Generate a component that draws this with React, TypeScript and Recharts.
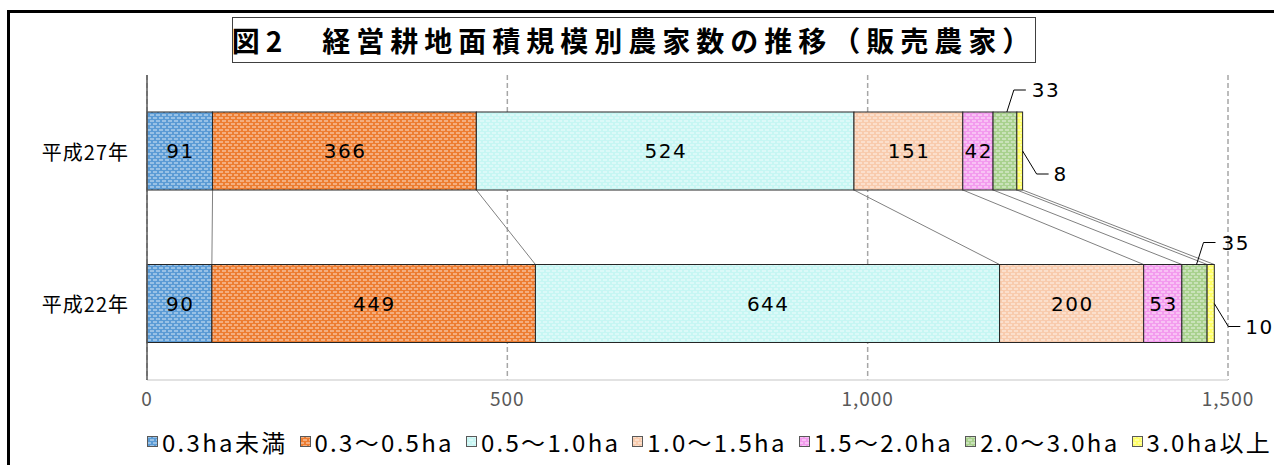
import React from "react"
import { BarChart, Bar, XAxis, YAxis, CartesianGrid, LabelList } from "recharts"

// 販売農家数（戸）
const years = ["平成27年", "平成22年"]
const sizeClasses = [
  "0.3ha未満",
  "0.3～0.5ha",
  "0.5～1.0ha",
  "1.0～1.5ha",
  "1.5～2.0ha",
  "2.0～3.0ha",
  "3.0ha以上",
]
const farmsH27 = [91, 366, 524, 151, 42, 33, 8]
const farmsH22 = [90, 449, 644, 200, 53, 35, 10]
const xTicks = [0, 500, 1000, 1500]

const colors = ["#5b9bd5", "#ed7d31", "#c6f6f3", "#f8cbad", "#f39bee", "#a9d18e", "#ffff66"]
// where the value label goes: inside the bar, or outside with a leader line
const labelPlace = ["in", "in", "in", "in", "in", "above", "below"]

const W = 1274
const H = 465
const MARGIN = { top: 75, right: 46, left: 0, bottom: 55 }
const X_AXIS_H = 30
const BAND = (H - MARGIN.top - MARGIN.bottom - X_AXIS_H) / years.length
const FONT = "'Noto Sans CJK JP', 'Noto Sans', sans-serif"
const NUM_FONT = "'DejaVu Sans', 'Noto Sans CJK JP', sans-serif"

const series = [farmsH27, farmsH22]

const chartData = years.map((year, r) => {
  const row: Record<string, string | number> = { year }
  sizeClasses.forEach((_, i) => {
    row[`s${i}`] = series[r][i]
  })
  return row
})

const cumTo = (vals: number[], i: number) => vals.slice(0, i + 1).reduce((a, b) => a + b, 0)

// bar segment + the series line down to the same boundary in the lower bar
const makeShape = (i: number) => (p: any) => {
  const { x, y, width, height, index } = p
  const rect = (
    <rect x={x} y={y} width={width} height={height} fill={`url(#pat${i})`} stroke="#262626" strokeWidth={1} />
  )
  if (index !== 0) return rect
  const k = width / farmsH27[i]
  const x2 = x + width + (cumTo(farmsH22, i) - cumTo(farmsH27, i)) * k
  return (
    <g>
      {rect}
      <line x1={x + width} y1={y + height} x2={x2} y2={y + BAND} stroke="#808080" strokeWidth={1} />
    </g>
  )
}

const makeLabel = (i: number) => (p: any) => {
  const { x, y, width, height, index } = p
  const value = series[index][i]
  const txt = { fontSize: 20, fontFamily: NUM_FONT, fill: "#000", letterSpacing: 1.5 }
  const mode = labelPlace[i]
  if (mode === "in") {
    return (
      <text x={x + width / 2 + 0.75} y={y + height / 2} textAnchor="middle" dominantBaseline="central" {...txt}>
        {value}
      </text>
    )
  }
  if (mode === "above") {
    const sx = x + width * 0.58
    const ey = y - 22
    return (
      <g>
        <polyline points={`${sx},${y} ${sx + 7},${ey} ${sx + 19},${ey}`} fill="none" stroke="#000" strokeWidth={1} />
        <text x={sx + 25} y={ey} dominantBaseline="central" {...txt}>
          {value}
        </text>
      </g>
    )
  }
  const sx = x + width
  const sy = y + height / 2
  const ey = sy + 23
  return (
    <g>
      <polyline points={`${sx},${sy} ${sx + 14},${ey} ${sx + 26},${ey}`} fill="none" stroke="#000" strokeWidth={1} />
      <text x={sx + 31} y={ey} dominantBaseline="central" {...txt}>
        {value}
      </text>
    </g>
  )
}

const YearTick = (p: any) => {
  const { x, y, payload } = p
  return (
    <text x={x} y={y} textAnchor="end" dominantBaseline="central" fontSize={20} fontFamily={FONT} fill="#000" letterSpacing={1}>
      {payload.value}
    </text>
  )
}

export default function App() {
  return (
    <div style={{ position: "absolute", left: 0, top: 0, width: W, height: H, background: "#fff", fontFamily: FONT }}>
      {/* frame: only left and top edges show */}
      <div
        style={{
          position: "absolute",
          left: 7,
          top: 10,
          width: W,
          height: H,
          borderLeft: "3px solid #000",
          borderTop: "3px solid #000",
        }}
      />

      <BarChart width={W} height={H} data={chartData} layout="vertical" margin={MARGIN} barSize={78}>
        <defs>
          {colors.map((c, i) => (
            <pattern key={i} id={`pat${i}`} width={6} height={6} patternUnits="userSpaceOnUse">
              <rect width={6} height={6} fill={c} />
              <rect x={0} y={0.5} width={4} height={1} fill="#fff" opacity={0.75} />
              <rect x={3} y={3.5} width={3} height={1} fill="#fff" opacity={0.75} />
              <rect x={0} y={3.5} width={1} height={1} fill="#fff" opacity={0.75} />
            </pattern>
          ))}
        </defs>
        <CartesianGrid horizontal={false} stroke="#a6a6a6" strokeDasharray="5 3" strokeWidth={1.5} />
        <XAxis
          type="number"
          domain={[0, 1500]}
          ticks={xTicks}
          tickFormatter={(v) => v.toLocaleString("en-US")}
          axisLine={{ stroke: "#d9d9d9", strokeWidth: 1.5 }}
          tickLine={false}
          tickMargin={7}
          height={X_AXIS_H}
          tick={{ fill: "#595959", fontSize: 19, fontFamily: FONT, letterSpacing: 1 }}
        />
        <YAxis
          type="category"
          dataKey="year"
          width={147}
          axisLine={{ stroke: "#595959", strokeWidth: 1.5 }}
          tickLine={false}
          tickSize={0}
          tickMargin={18}
          tick={<YearTick />}
        />
        {sizeClasses.map((name, i) => (
          <Bar
            key={name}
            dataKey={`s${i}`}
            name={name}
            stackId="farms"
            isAnimationActive={false}
            shape={makeShape(i)}
          >
            <LabelList content={makeLabel(i)} />
          </Bar>
        ))}
      </BarChart>

      {/* title */}
      <div
        style={{
          position: "absolute",
          left: 232,
          top: 17,
          width: 802,
          height: 44,
          border: "1.5px solid #404040",
          background: "#fff",
          display: "flex",
          alignItems: "center",
          justifyContent: "center",
          fontSize: 28,
          fontWeight: 700,
          letterSpacing: 6,
          color: "#000",
          whiteSpace: "nowrap",
        }}
      >
        図2　経営耕地面積規模別農家数の推移（販売農家）
      </div>

      {/* legend */}
      <div
        style={{
          position: "absolute",
          left: 147,
          top: 424,
          display: "flex",
          alignItems: "center",
          gap: 12,
          fontSize: 24,
          letterSpacing: 2.3,
          color: "#000",
          whiteSpace: "nowrap",
        }}
      >
        {sizeClasses.map((name, i) => (
          <div key={name} style={{ display: "flex", alignItems: "center", gap: 4 }}>
            <svg width={11} height={11}>
              <rect x={0.5} y={0.5} width={10} height={10} fill={`url(#pat${i})`} stroke="#595959" strokeWidth={1} />
            </svg>
            <span>{name}</span>
          </div>
        ))}
      </div>
    </div>
  )
}
